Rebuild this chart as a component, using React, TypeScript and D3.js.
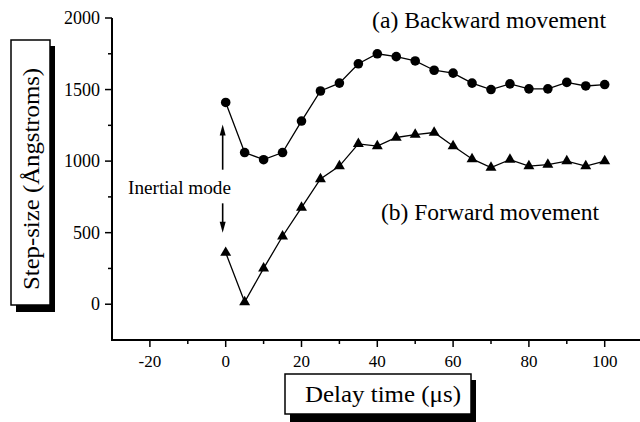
import React, { useEffect, useRef } from 'react'
import { select, scaleLinear, line, symbol, symbolTriangle } from 'd3'

// delay time (us) and step sizes (Angstroms)
const delays = [0, 5, 10, 15, 20, 25, 30, 35, 40, 45, 50, 55, 60, 65, 70, 75, 80, 85, 90, 95, 100]
const backward = [1410, 1060, 1010, 1060, 1280, 1490, 1545, 1680, 1750, 1730, 1700, 1635, 1615, 1545, 1500, 1540, 1505, 1505, 1550, 1525, 1535]
const forward = [360, 15, 250, 475, 675, 875, 965, 1120, 1105, 1165, 1185, 1200, 1105, 1015, 955, 1010, 965, 975, 1000, 965, 1000]

const xTicks = [-20, 0, 20, 40, 60, 80, 100]
const xMinor = [-10, 10, 30, 50, 70, 90, 110]
const yTicks = [0, 500, 1000, 1500, 2000]
const yMinor = [250, 750, 1250, 1750]

const FONT = "'Liberation Serif', Tinos, 'Times New Roman', serif"

function App() {
  const ref = useRef<SVGSVGElement>(null)

  useEffect(() => {
    const svg = select(ref.current)
    svg.selectAll('*').remove()

    const x = scaleLinear().domain([-30, 110]).range([112, 642.6])
    const y = scaleLinear().domain([-250, 2000]).range([340, 18])

    const g = svg.append('g').style('font-family', FONT)

    // axes
    g.append('line')
      .attr('x1', x(-30)).attr('x2', x(-30))
      .attr('y1', y(2000)).attr('y2', y(-250) + 1)
      .attr('stroke', '#000').attr('stroke-width', 2)
    g.append('line')
      .attr('x1', x(-30) - 1).attr('x2', x(110))
      .attr('y1', y(-250)).attr('y2', y(-250))
      .attr('stroke', '#000').attr('stroke-width', 2)

    // y ticks
    g.selectAll('.ymaj').data(yTicks).join('line')
      .attr('x1', x(-30) - 7).attr('x2', x(-30))
      .attr('y1', d => y(d)).attr('y2', d => y(d))
      .attr('stroke', '#000').attr('stroke-width', 1.5)
    g.selectAll('.ymin').data(yMinor).join('line')
      .attr('x1', x(-30) - 4).attr('x2', x(-30))
      .attr('y1', d => y(d)).attr('y2', d => y(d))
      .attr('stroke', '#000').attr('stroke-width', 1.5)
    g.selectAll('.ylab').data(yTicks).join('text')
      .attr('x', 100).attr('y', d => y(d) + 6)
      .attr('text-anchor', 'end')
      .style('font-size', '18px')
      .text(d => d)

    // x ticks
    g.selectAll('.xmaj').data(xTicks).join('line')
      .attr('x1', d => x(d)).attr('x2', d => x(d))
      .attr('y1', y(-250)).attr('y2', y(-250) + 7)
      .attr('stroke', '#000').attr('stroke-width', 1.5)
    g.selectAll('.xmin').data(xMinor).join('line')
      .attr('x1', d => x(d)).attr('x2', d => x(d))
      .attr('y1', y(-250)).attr('y2', y(-250) + 4)
      .attr('stroke', '#000').attr('stroke-width', 1.5)
    g.selectAll('.xlab').data(xTicks).join('text')
      .attr('x', d => x(d)).attr('y', 367)
      .attr('text-anchor', 'middle')
      .style('font-size', '17px')
      .text(d => d)

    const pts = (vals: number[]) => delays.map((d, i) => [x(d), y(vals[i])] as [number, number])
    const path = line()

    // backward movement
    g.append('path')
      .attr('d', path(pts(backward)))
      .attr('fill', 'none').attr('stroke', '#000').attr('stroke-width', 1.3)
    g.selectAll('.circ').data(pts(backward)).join('circle')
      .attr('cx', d => d[0]).attr('cy', d => d[1]).attr('r', 4.8)
      .attr('fill', '#000')

    // forward movement
    g.append('path')
      .attr('d', path(pts(forward)))
      .attr('fill', 'none').attr('stroke', '#000').attr('stroke-width', 1.3)
    g.selectAll('.tri').data(pts(forward)).join('path')
      .attr('d', symbol(symbolTriangle, 52)())
      .attr('transform', d => `translate(${d[0]},${d[1]})`)
      .attr('fill', '#000')

    // inertial mode arrows
    const ax = x(-0.8)
    const arrow = (from: number, to: number) => {
      const y0 = y(from), y1 = y(to)
      const dir = y1 < y0 ? 1 : -1
      g.append('line')
        .attr('x1', ax).attr('x2', ax)
        .attr('y1', y0).attr('y2', y1 + dir * 8)
        .attr('stroke', '#000').attr('stroke-width', 1.6)
      g.append('path')
        .attr('d', `M${ax},${y1} L${ax - 3},${y1 + dir * 11} L${ax + 3},${y1 + dir * 11} Z`)
        .attr('fill', '#000')
    }
    arrow(940, 1255)
    arrow(705, 500)

    g.append('text')
      .attr('x', 128).attr('y', 194)
      .style('font-size', '19px')
      .attr('textLength', 103).attr('lengthAdjust', 'spacingAndGlyphs')
      .text('Inertial mode')

    g.append('text')
      .attr('x', 372).attr('y', 28)
      .style('font-size', '23px')
      .attr('textLength', 234).attr('lengthAdjust', 'spacingAndGlyphs')
      .text('(a) Backward movement')
    g.append('text')
      .attr('x', 381).attr('y', 220)
      .style('font-size', '23px')
      .attr('textLength', 218).attr('lengthAdjust', 'spacingAndGlyphs')
      .text('(b) Forward movement')

    // y axis title box with shadow
    g.append('rect').attr('x', 16).attr('y', 46).attr('width', 39).attr('height', 266).attr('fill', '#000')
    g.append('rect').attr('x', 11).attr('y', 40).attr('width', 39).attr('height', 265)
      .attr('fill', '#fff').attr('stroke', '#000').attr('stroke-width', 1.5)
    g.append('text')
      .attr('transform', 'translate(39,179) rotate(-90)')
      .attr('text-anchor', 'middle')
      .style('font-size', '23px')
      .attr('textLength', 222).attr('lengthAdjust', 'spacingAndGlyphs')
      .text('Step-size (Ångstroms)')

    // x axis title box with shadow
    g.append('rect').attr('x', 290).attr('y', 380).attr('width', 186).attr('height', 42).attr('fill', '#000')
    g.append('rect').attr('x', 285).attr('y', 374).attr('width', 186).attr('height', 40)
      .attr('fill', '#fff').attr('stroke', '#000').attr('stroke-width', 1.5)
    g.append('text')
      .attr('x', 305).attr('y', 402)
      .style('font-size', '23px')
      .attr('textLength', 156).attr('lengthAdjust', 'spacingAndGlyphs')
      .text('Delay time (μs)')
  }, [])

  return (
    <svg
      ref={ref}
      width={640}
      height={422}
      style={{ position: 'absolute', left: 0, top: 0, background: '#fff' }}
    />
  )
}

export default App
